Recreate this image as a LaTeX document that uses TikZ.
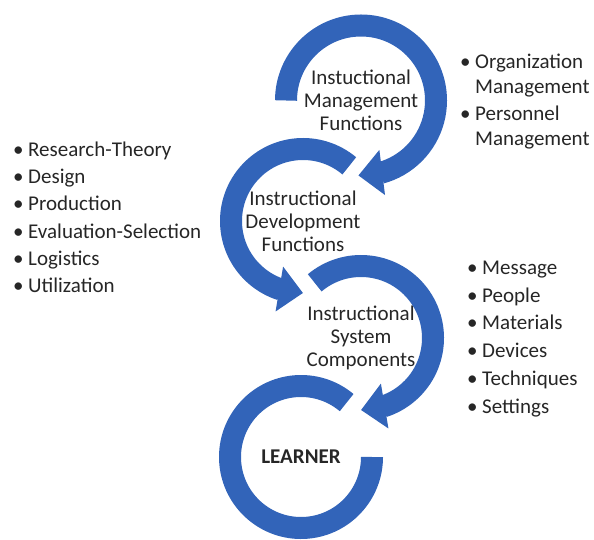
\documentclass[tikz,border=0pt]{standalone}
\usepackage{fontspec}
\setmainfont{Carlito}
\usetikzlibrary{arrows.meta,bending}

\definecolor{ringblue}{RGB}{50,100,185}
\newcommand{\bul}{\makebox[15pt][l]{\textbullet}}

\tikzset{
	ring/.style={draw=ringblue, line width=22pt},
	ringarrow/.style={ring, -{Triangle[length=24pt,width=44pt]}},
	ctext/.style={align=center, inner sep=0pt, text=black!85, font=\fontsize{21}{23}\selectfont},
	item/.style={anchor=base west, inner sep=0pt, text=black!85, font=\fontsize{21}{23}\selectfont},
}

\begin{document}
\begin{tikzpicture}[x=1pt,y=1pt]
	\useasboundingbox (0,0) rectangle (594,539);

	\node[ctext]                     (mgmt)    at (361,438.5) {Instuctional\\Management\\Functions};
	\node[ctext]                     (devel)   at (303,318)   {Instructional\\Development\\Functions};
	\node[ctext]                     (system)  at (361,201)   {Instructional\\System\\Components};
	\node[ctext, font=\fontsize{21}{23}\selectfont\bfseries] (learner) at (301,82) {LEARNER};

	% rings
	\draw[ringarrow] ([shift={(180:75)}]mgmt.center)   arc[start angle=180, end angle=-92, radius=75];
	\draw[ringarrow] ([shift={(50:72)}]devel.center)   arc[start angle=50,  end angle=270, radius=72];
	\draw[ringarrow] ([shift={(130:72)}]system.center) arc[start angle=130, end angle=-90, radius=72];
	\draw[ring]      ([shift={(50:71)}]learner.center) arc[start angle=50,  end angle=360, radius=71];

	% management list
	\node[item] (org)   at (460,470) {\bul Organization};
	\node[item] (org2)  at (475,445) {Management};
	\node[item] (pers)  at (460,418) {\bul Personnel};
	\node[item] (pers2) at (475,393) {Management};

	% development list
	\node[item] (rt)    at (13,382) {\bul Research-Theory};
	\node[item] (des)   at (13,355) {\bul Design};
	\node[item] (prod)  at (13,328) {\bul Production};
	\node[item] (eval)  at (13,301) {\bul Evaluation-Selection};
	\node[item] (logi)  at (13,274) {\bul Logistics};
	\node[item] (util)  at (13,247) {\bul Utilization};

	% system list
	\node[item] (msg)   at (467,265) {\bul Message};
	\node[item] (ppl)   at (467,237) {\bul People};
	\node[item] (mat)   at (467,210) {\bul Materials};
	\node[item] (dev)   at (467,182) {\bul Devices};
	\node[item] (tech)  at (467,154) {\bul Techniques};
	\node[item] (set)   at (467,126) {\bul Settings};
\end{tikzpicture}
\end{document}
